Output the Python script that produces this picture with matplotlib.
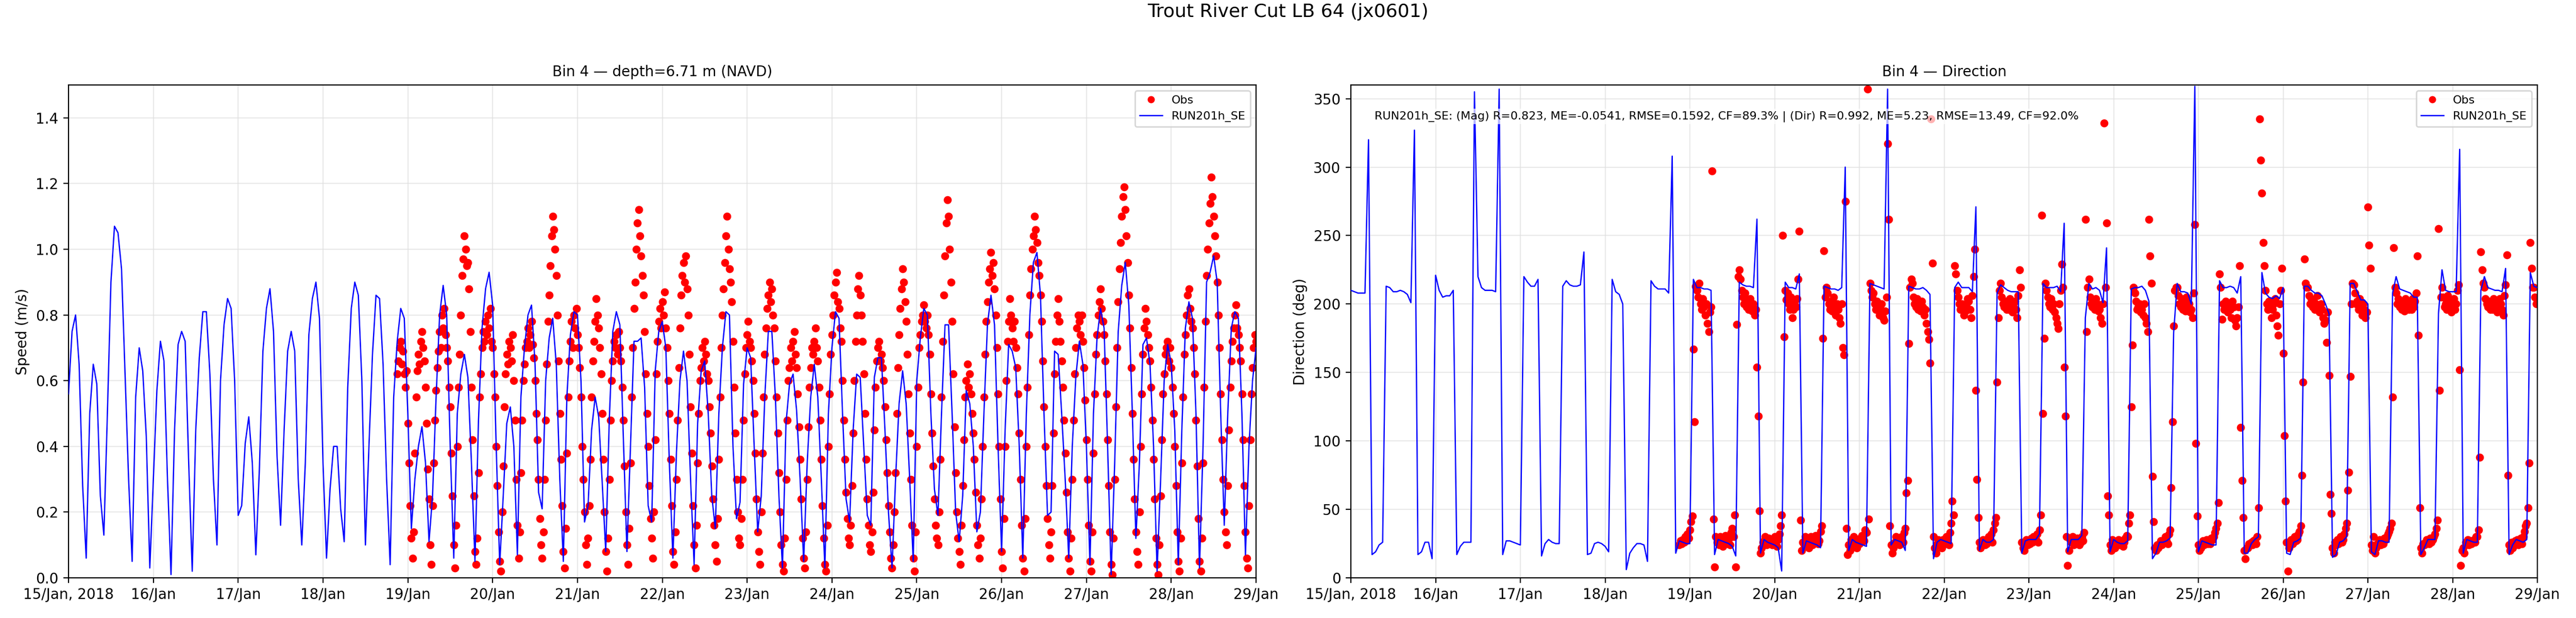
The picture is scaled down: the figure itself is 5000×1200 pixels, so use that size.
import numpy as np
import matplotlib
matplotlib.use("Agg")
import matplotlib.pyplot as plt
import matplotlib.dates as mdates
from datetime import datetime

# ---------------- data ----------------
start_date = datetime(2018, 1, 15)

# model, hourly from 15 Jan 00:00 (speed in cm/s)
model_speed_cms = [
    56, 75, 80, 65, 28, 6, 50, 65, 59, 25, 13, 50, 90, 107, 105, 94, 62, 30, 5, 55, 70, 63, 43, 3,
    30, 57, 72, 66, 30, 1, 45, 71, 75, 72, 35, 2, 45, 67, 81, 81, 62, 30, 10, 60, 77, 85, 82, 60,
    19, 22, 41, 49, 35, 7, 33, 69, 82, 88, 75, 37, 16, 45, 69, 75, 69, 30, 10, 35, 74, 85, 90, 79,
    35, 6, 27, 40, 40, 21, 11, 58, 82, 90, 86, 60, 10, 40, 68, 86, 85, 65, 30, 4, 55, 72, 82, 79,
    50, 15, 30, 40, 46, 35, 11, 25, 55, 80, 89, 80, 40, 6, 50, 62, 68, 61, 35, 5, 48, 76, 88, 93,
    83, 40, 4, 25, 47, 52, 40, 7, 55, 70, 80, 83, 65, 26, 21, 60, 73, 79, 65, 30, 5, 55, 74, 81,
    80, 60, 17, 22, 45, 55, 49, 29, 8, 48, 75, 81, 77, 42, 8, 40, 72, 72, 73, 58, 22, 17, 63, 75,
    78, 70, 35, 6, 38, 60, 69, 60, 30, 4, 47, 63, 66, 50, 25, 15, 50, 70, 81, 80, 40, 18, 23, 59,
    70, 67, 40, 14, 25, 55, 75, 75, 55, 25, 3, 47, 59, 62, 51, 30, 5, 35, 55, 65, 55, 30, 3, 50,
    70, 81, 79, 50, 24, 17, 45, 62, 61, 40, 19, 16, 61, 67, 67, 45, 20, 3, 30, 53, 63, 53, 30, 5,
    60, 73, 82, 80, 50, 27, 19, 50, 77, 77, 50, 20, 11, 25, 57, 53, 40, 14, 20, 50, 77, 86, 77, 40,
    8, 45, 71, 69, 64, 40, 6, 50, 80, 96, 99, 86, 50, 19, 20, 69, 68, 50, 30, 6, 40, 61, 72, 65,
    40, 4, 50, 73, 82, 76, 40, 1, 35, 75, 89, 96, 83, 50, 12, 35, 71, 73, 65, 40, 2, 30, 60, 71,
    65, 45, 4, 45, 76, 84, 79, 50, 3, 40, 90, 93, 98, 90, 50, 16, 50, 76, 81, 79, 50, 7, 40, 60, 70,
]

# model direction, hourly (deg)
model_dir_deg = [
    210, 209, 208, 208, 208, 320, 17, 19, 24, 26, 213, 212, 209, 209, 210, 209, 207, 201, 327, 17, 19, 26, 26, 14,
    221, 210, 205, 206, 206, 210, 17, 23, 26, 26, 26, 355, 220, 212, 210, 210, 210, 209, 357, 17, 27, 27, 26, 25,
    24, 220, 216, 213, 213, 218, 16, 25, 28, 26, 25, 25, 213, 217, 214, 213, 213, 214, 238, 17, 18, 25, 26, 25,
    23, 19, 218, 209, 207, 200, 6, 18, 22, 25, 25, 24, 12, 217, 213, 211, 211, 211, 208, 308, 18, 27, 26, 25,
    25, 218, 212, 212, 211, 211, 210, 17, 28, 27, 26, 25, 23, 16, 216, 214, 213, 213, 212, 262, 18, 28, 26, 25,
    24, 22, 5, 216, 212, 212, 211, 222, 18, 27, 26, 25, 24, 22, 213, 212, 211, 211, 210, 212, 300, 20, 28, 26,
    25, 24, 23, 215, 214, 213, 212, 211, 357, 24, 28, 27, 26, 20, 213, 212, 211, 211, 212, 210, 207, 14, 26, 28,
    27, 26, 25, 212, 216, 212, 212, 212, 209, 271, 20, 28, 26, 26, 28, 208, 214, 212, 210, 209, 209, 209, 18, 27,
    28, 28, 28, 32, 215, 212, 212, 212, 213, 209, 259, 19, 28, 28, 28, 31, 190, 215, 211, 212, 210, 201, 241, 19,
    28, 26, 25, 25, 27, 211, 212, 212, 213, 210, 202, 14, 18, 26, 26, 27, 29, 179, 215, 209, 209, 208, 200, 359,
    19, 27, 26, 25, 24, 24, 217, 212, 212, 213, 212, 208, 220, 18, 18, 25, 28, 30, 223, 208, 205, 204, 206, 204,
    212, 18, 17, 26, 27, 29, 213, 213, 210, 208, 208, 206, 200, 193, 15, 17, 26, 27, 30, 215, 215, 209, 203, 203,
    200, 19, 17, 27, 27, 26, 26, 208, 220, 211, 210, 209, 208, 205, 205, 17, 22, 28, 28, 28, 193, 225, 210, 209,
    209, 209, 313, 18, 28, 27, 26, 26, 210, 220, 212, 211, 210, 210, 209, 226, 17, 24, 28, 27, 26, 28, 223, 213, 212,
]

# observations, every 20 min starting 18 Jan 21:00 (hour 93)
obs_start_hour = 93
obs_speed_cms = [
    62, 66, 70, 72, 65, 69, 62, 58, 63, 47, 35, 22,
    12, 6, 14,
    38, 55, 63, 68, 65, 72, 75, 70, 66, 58, 47, 33,
    24, 10, 4,
    22, 35, 48, 57, 64, 69, 75, 70, 80, 76, 82, 74, 70, 66, 58, 52, 38, 25,
    10, 3, 16,
    40, 58, 68, 80, 92, 97, 104, 100, 95, 96, 88, 75, 58, 42, 25,
    8, 4, 12,
    32, 55, 62, 70, 75, 72, 78, 74, 80, 76, 82, 72, 70, 62, 55, 40, 28, 14,
    5, 2, 20,
    34, 52, 62, 68, 65, 72, 70, 66, 74, 60, 48, 30,
    16, 6, 14,
    32, 48, 60, 65, 70, 72, 76, 70, 74, 78, 71, 67, 60, 50, 42, 30, 18, 10,
    6, 14, 30,
    48, 65, 78, 86, 95, 104, 110, 106, 100, 92, 80, 66, 50, 36, 22,
    8, 3, 15,
    38, 55, 66, 72, 78, 70, 80, 76, 82, 74, 70, 64, 55, 40, 30,
    20, 10, 4, 12, 22, 36,
    55, 66, 72, 78, 85, 80, 76, 70, 62, 50, 36, 20,
    8, 2, 12,
    30, 48, 60, 66, 72, 70, 74, 68, 75, 70, 66, 58, 48, 34, 20,
    10, 4, 15,
    35, 55, 70, 82, 90, 100, 108, 112, 104, 98, 92, 86, 75, 62, 50, 40, 28, 18, 12, 6, 20,
    42, 62, 72, 78, 82, 76, 84, 80, 87, 76, 70, 60, 50, 36, 22,
    8, 4, 14,
    30, 48, 64, 76, 86, 92, 96, 90, 98, 88, 80, 68, 52, 38, 22,
    10, 3, 16,
    35, 50, 60, 64, 70, 66, 72, 68, 62, 60, 52, 44, 34, 24, 16,
    10, 5, 18,
    36, 55, 70, 80, 88, 96, 104, 110, 100, 94, 90, 84, 72, 58, 44, 30, 20, 12,
    10, 18, 30,
    48, 62, 70, 74, 78, 72, 70, 66, 60, 50, 38, 24, 14, 8, 4,
    20, 38, 55, 68, 76, 82, 86, 90, 84, 88, 80, 76, 66, 55, 44, 32, 20, 10,
    4, 2, 12,
    30, 48, 60, 64, 70, 66, 72, 75, 68, 64, 56, 46, 36, 24, 12,
    6, 3, 14,
    30, 46, 58, 64, 70, 68, 72, 76, 70, 66, 58, 48, 36, 22, 12,
    4, 2, 16,
    40, 56, 68, 74, 80, 86, 90, 93, 84, 82, 76, 72, 60, 48, 36, 26, 18, 12,
    10, 16, 28,
    44, 60, 72, 80, 88, 92, 86, 80, 72, 62, 50, 36, 24, 16, 10,
    8, 14, 26,
    45, 58, 66, 70, 72, 66, 68, 64, 60, 52, 42, 32, 22, 14, 6,
    3, 10, 20,
    32, 50, 64, 74, 82, 88, 94, 90, 84, 78, 68, 56, 44, 30, 16,
    6, 2, 14,
    40, 58, 70, 74, 78, 80, 83, 78, 76, 80, 74, 68, 56, 44, 34, 24, 16, 12,
    10, 20, 36,
    55, 72, 86, 98, 108, 115, 110, 100, 90, 78, 62, 46, 32, 20, 12,
    8, 4, 16,
    28, 42, 55, 60, 65, 58, 62, 56, 50, 44, 36, 26, 16, 10, 6,
    12, 24, 40,
    55, 68, 78, 84, 90, 94, 99, 92, 96, 88, 80, 70, 56, 40, 24,
    8, 3, 18,
    40, 60, 72, 78, 85, 80, 76, 72, 78, 70, 64, 56, 44, 30, 16,
    6, 2, 18,
    40, 58, 74, 86, 94, 100, 104, 110, 106, 102, 96, 92, 86, 78, 66, 52, 40, 28, 18, 10, 6,
    14, 28, 44,
    62, 72, 80, 85, 78, 72, 66, 58, 48, 38, 26, 14,
    6, 2, 12,
    30, 48, 62, 70, 76, 80, 78, 74, 80, 72, 64, 54, 42, 30, 16,
    5, 2, 14,
    38, 56, 68, 74, 80, 84, 88, 82, 78, 74, 66, 56, 42, 28, 14,
    4, 1, 12,
    30, 52, 70, 84, 94, 102, 110, 116, 119, 112, 104, 96, 86, 76, 64, 50, 36, 24, 14, 8, 4,
    20, 40, 56, 68, 76, 82, 78, 74, 70, 66, 58, 48, 36, 24, 12,
    4, 1, 10,
    25, 42, 56, 62, 68, 70, 72, 66, 70, 64, 58, 50, 40, 28, 14,
    5, 2, 12,
    35, 55, 68, 74, 80, 86, 88, 82, 78, 76, 70, 62, 48, 34, 18,
    5, 2, 12,
    35, 58, 78, 92, 100, 108, 114, 122, 116, 110, 104, 98, 90, 80, 70, 56, 42, 30, 20, 14, 10,
    28, 45, 58, 66, 72, 76, 80, 83, 76, 74, 70, 66, 56, 42, 28, 14, 6, 3,
    22, 42, 56, 64, 70, 74,
    72,
]

obs_dir_deg = [
    24, 27, 25, 28, 26, 30, 27, 32, 29, 35, 41, 45,
    167, 114, 213, 210, 205, 215, 200, 196, 204, 198, 192, 200, 186, 180, 194, 198, 297, 43,
    8, 30, 26, 28, 24, 30, 26, 23, 29, 31, 27, 25, 28, 24, 33, 36, 30, 46,
    8, 185, 220, 225, 218, 210, 205, 200, 208, 198, 202, 196, 204, 200, 195, 200, 192, 196, 154, 118, 49,
    18, 22, 26, 27, 30, 24, 26, 29, 25, 28, 24, 27, 30, 26, 23, 28, 32, 38,
    46, 250, 176, 210, 203, 208, 200, 196, 205, 190, 196, 200, 198, 204, 218, 253, 42, 20,
    26, 24, 30, 28, 25, 22, 27, 30, 24, 26, 28, 31, 30, 25, 27, 34, 38, 175,
    239, 205, 212, 208, 200, 196, 202, 195, 205, 198, 192, 200, 196, 190, 186, 200, 168, 163, 275, 36, 17,
    24, 20, 28, 26, 30, 24, 28, 22, 27, 25, 29, 31, 30, 27, 35, 33, 357, 43,
    215, 210, 205, 208, 200, 196, 202, 198, 192, 196, 200, 190, 188, 195, 205, 317, 262, 38,
    24, 18, 22, 26, 30, 25, 28, 24, 27, 30, 26, 33, 36, 62, 71,
    171, 212, 218, 215, 205, 200, 198, 204, 196, 200, 195, 202, 198, 192, 196, 186, 180, 174, 157, 335, 230,
    30, 22, 18, 25, 28, 24, 26, 22, 28, 27, 25, 30, 28, 24, 33, 40, 56, 46,
    228, 222, 210, 205, 200, 196, 200, 198, 192, 195, 200, 204, 202, 196, 190, 206, 220, 240, 137, 72, 44,
    26, 22, 24, 28, 26, 24, 25, 27, 30, 28, 32, 26, 35, 40, 44,
    143, 190, 210, 215, 205, 200, 198, 202, 196, 200, 196, 204, 198, 194, 200, 202, 196, 190, 206, 225, 212,
    26, 22, 20, 26, 28, 24, 27, 25, 29, 26, 30, 27, 28, 32, 26, 35, 46, 265,
    120, 175, 215, 210, 205, 200, 198, 204, 196, 200, 194, 190, 186, 182, 200, 210, 229, 212, 154, 118, 30,
    9, 20, 28, 26, 30, 24, 27, 25, 29, 28, 24, 26, 30, 27, 33,
    262, 180, 212, 218, 205, 200, 198, 202, 196, 204, 200, 195, 196, 190, 186, 200, 332, 212, 259, 60, 46,
    24, 20, 28, 26, 22, 25, 25, 28, 24, 27, 25, 23, 26, 29, 31, 30, 40, 46,
    125, 170, 212, 208, 202, 196, 198, 200, 194, 196, 192, 200, 190, 186, 180, 262, 235, 215,
    74, 41, 22, 20, 24, 22, 25, 27, 24, 26, 28, 30, 27, 25, 32, 35, 66, 114,
    184, 210, 212, 212, 206, 200, 198, 204, 196, 200, 195, 205, 198, 200, 194, 196, 190, 208, 258, 98, 45,
    24, 20, 22, 25, 27, 24, 26, 28, 25, 27, 25, 29, 28, 30, 33, 36, 40, 55,
    222, 212, 189, 200, 196, 202, 198, 194, 200, 196, 190, 202, 198, 188, 184, 190, 198, 228, 110, 71, 44,
    20, 14, 22, 22, 25, 24, 26, 24, 27, 28, 25, 30, 51, 335, 305,
    281, 245, 228, 210, 200, 196, 202, 198, 190, 196, 200, 204, 192, 184, 177, 200, 210, 226, 164, 104, 56,
    26, 5, 22, 24, 28, 25, 26, 30, 27, 28, 32, 34, 38, 75, 143,
    233, 215, 212, 212, 206, 200, 204, 198, 202, 196, 200, 206, 198, 194, 200, 196, 190, 186, 188, 172, 194, 148, 61, 47,
    22, 18, 26, 24, 28, 25, 27, 30, 26, 28, 32, 36, 40, 64, 77,
    147, 200, 215, 214, 208, 200, 202, 196, 204, 198, 192, 200, 196, 190, 194, 271, 243, 226,
    24, 20, 30, 18, 22, 25, 26, 28, 24, 27, 25, 29, 28, 30, 32, 34, 36, 40,
    132, 241, 212, 208, 200, 204, 198, 202, 196, 200, 195, 204, 198, 202, 196, 200, 196, 204, 198, 202, 208, 235, 177, 51,
    22, 18, 25, 24, 26, 28, 27, 25, 29, 26, 28, 30, 32, 36, 42,
    255, 137, 205, 212, 205, 198, 200, 196, 206, 202, 198, 194, 198, 204, 196, 200, 210, 214, 152, 9, 20,
    22, 18, 26, 25, 28, 24, 27, 25, 26, 28, 26, 30, 30, 35, 88,
    238, 225, 215, 212, 204, 200, 198, 202, 196, 200, 196, 204, 202, 198, 194, 198, 204, 200, 196, 192, 206, 214, 236, 75,
    24, 20, 26, 22, 25, 27, 26, 28, 24, 27, 29, 25, 30, 34, 38, 40, 51, 84,
    245, 226, 212, 212, 205, 200,
    202,
]

day_tick_labels = ["15/Jan, 2018", "16/Jan", "17/Jan", "18/Jan", "19/Jan", "20/Jan", "21/Jan",
                   "22/Jan", "23/Jan", "24/Jan", "25/Jan", "26/Jan", "27/Jan", "28/Jan", "29/Jan"]

speed_yticks = [0.0, 0.2, 0.4, 0.6, 0.8, 1.0, 1.2, 1.4]
dir_yticks = [0, 50, 100, 150, 200, 250, 300, 350]

stats_text = ("RUN201h_SE: (Mag) R=0.823, ME=-0.0541, RMSE=0.1592, CF=89.3% | "
              "(Dir) R=0.992, ME=5.23, RMSE=13.49, CF=92.0%")

# ---------------- derived ----------------
t0 = mdates.date2num(start_date)
model_spd = np.array(model_speed_cms) / 100.0
model_dir = np.array(model_dir_deg, dtype=float)
model_x = t0 + np.arange(len(model_spd)) / 24.0
obs_spd = np.array(obs_speed_cms) / 100.0
obs_dir = np.array(obs_dir_deg, dtype=float)
obs_x_spd = t0 + (obs_start_hour + np.arange(len(obs_spd)) / 3.0) / 24.0
obs_x_dir = t0 + (obs_start_hour + np.arange(len(obs_dir)) / 3.0) / 24.0
day_ticks = t0 + np.arange(len(day_tick_labels))

# ---------------- figure ----------------
plt.rcParams['font.family'] = ['DejaVu Sans']
fig = plt.figure(figsize=(25, 6), dpi=200)
ax1 = fig.add_axes([0.0266, 0.065, 0.461, 0.7975])
ax2 = fig.add_axes([0.5244, 0.065, 0.4606, 0.7975])

fig.suptitle("Trout River Cut LB 64 (jx0601)", fontsize=13, y=0.995, va='top')

for ax in (ax1, ax2):
    ax.grid(True, color='0.88', linewidth=0.8, alpha=0.7)
    ax.set_axisbelow(True)
    ax.set_xlim(day_ticks[0], day_ticks[-1])
    ax.set_xticks(day_ticks)
    ax.set_xticklabels(day_tick_labels, fontsize=10)
    ax.tick_params(axis='y', labelsize=10)

ax1.plot(obs_x_spd, obs_spd, 'o', color='red', markersize=4.6, label='Obs', zorder=2)
ax1.plot(model_x, model_spd, '-', color='blue', linewidth=0.9, label='RUN201h_SE', zorder=3)
ax1.set_ylim(0, 1.5)
ax1.set_yticks(speed_yticks)
ax1.set_ylabel("Speed (m/s)", fontsize=10)
ax1.set_title("Bin 4 \u2014 depth=6.71 m (NAVD)", fontsize=10)
ax1.legend(loc='upper right', fontsize=8, markerscale=4.0 / 4.6)

ax2.plot(obs_x_dir, obs_dir, 'o', color='red', markersize=4.6, label='Obs', zorder=2)
ax2.plot(model_x, model_dir, '-', color='blue', linewidth=0.9, label='RUN201h_SE', zorder=3)
ax2.set_ylim(0, 360)
ax2.set_yticks(dir_yticks)
ax2.set_ylabel("Direction (deg)", fontsize=10)
ax2.set_title("Bin 4 \u2014 Direction", fontsize=10)
ax2.legend(loc='upper right', fontsize=8, markerscale=4.0 / 4.6)
ax2.text(0.02, 0.936, stats_text, transform=ax2.transAxes, fontsize=8, va='center', ha='left',
         zorder=5, bbox=dict(facecolor='white', alpha=0.7, edgecolor='none', pad=1.5))

fig.savefig("out.png", dpi=200)
